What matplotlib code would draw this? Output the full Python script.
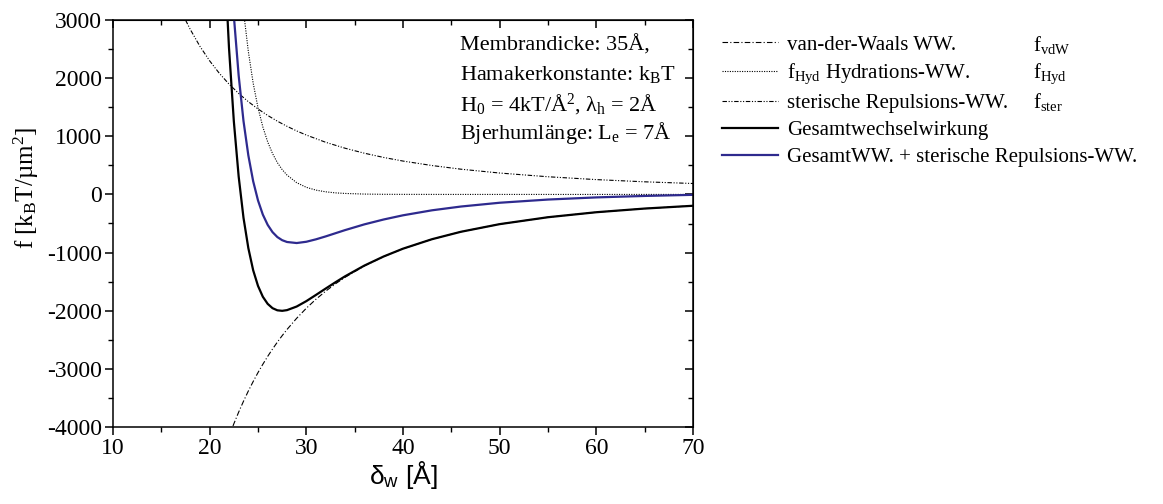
import matplotlib
matplotlib.use("Agg")
import matplotlib.pyplot as plt
from matplotlib.ticker import MultipleLocator

# ---------------- data ----------------
d_vdw = [22, 22.5, 23, 23.5, 24, 24.5, 25, 25.5, 26, 26.5, 27, 27.5, 28, 29, 30,
         31, 32, 33, 34, 36, 38, 40, 43, 46, 50, 55, 60, 65, 70]
f_vdw = [-4161, -3945, -3744, -3557, -3381, -3218, -3064, -2921, -2786, -2660, -2541,
         -2429, -2323, -2130, -1957, -1802, -1664, -1539, -1426, -1230, -1069, -934,
         -770, -642, -511, -392, -306, -243, -195]

d_hyd = [23.5, 24, 24.5, 25, 25.5, 26, 26.5, 27, 27.5, 28, 29, 30, 31, 32, 33, 34,
         36, 38, 40, 45, 50, 60, 70]
f_hyd = [3155, 2458, 1914, 1491, 1161, 904, 704, 548, 427, 333, 202, 122, 74, 45, 27,
         17, 6, 2, 1, 0, 0, 0, 0]

d_ster = [17, 17.5, 18, 19, 20, 21, 22, 23, 24, 25, 26, 27, 28, 29, 30, 32, 34, 36,
          38, 40, 43, 46, 50, 55, 60, 65, 70]
f_ster = [3179, 3000, 2836, 2545, 2297, 2083, 1898, 1737, 1595, 1470, 1359, 1260, 1172,
          1092, 1021, 897, 795, 709, 636, 574, 497, 434, 368, 304, 255, 217, 188]

d_tot = [21.5, 22, 22.5, 23, 23.5, 24, 24.5, 25, 25.5, 26, 26.5, 27, 27.5, 28, 29, 30,
         31, 32, 33, 34, 36, 38, 40, 43, 46, 50, 55, 60, 65, 70]
f_tot = [4183, 2520, 1258, 308, -402, -923, -1304, -1573, -1760, -1882, -1956, -1993,
         -2002, -1990, -1928, -1835, -1728, -1619, -1512, -1409, -1224, -1067, -933,
         -770, -642, -511, -392, -306, -243, -195]

d_blue = [22, 22.5, 23, 23.5, 24, 24.5, 25, 25.5, 26, 26.5, 27, 27.5, 28, 29, 30, 31,
          32, 33, 34, 36, 38, 40, 43, 46, 50, 55, 60, 65, 70]
f_blue = [4418, 3073, 2045, 1262, 672, 227, -103, -347, -523, -648, -733, -787, -818,
          -836, -814, -772, -722, -668, -614, -515, -431, -359, -273, -208, -143, -88,
          -51, -26, -7]

x_ticks = [10, 20, 30, 40, 50, 60, 70]
y_ticks = [-4000, -3000, -2000, -1000, 0, 1000, 2000, 3000]

labels = ["van-der-Waals WW.",
          r"f$_{\mathrm{Hyd}}$ Hydrations-WW.",
          "sterische Repulsions-WW.",
          "Gesamtwechselwirkung",
          "GesamtWW. + sterische Repulsions-WW."]
right_col = [r"f$_{\mathrm{vdW}}$", r"f$_{\mathrm{Hyd}}$", r"f$_{\mathrm{ster}}$"]
annot = ["Membrandicke: 35Å,",
         r"Hamakerkonstante: k$_{\mathrm{B}}$T",
         r"H$_{0}$ = 4kT/Å$^{2}$, λ$_{\mathrm{h}}$ = 2Å",
         r"Bjerhumlänge: L$_{\mathrm{e}}$ = 7Å"]

# ---------------- styling ----------------
SERIF = "Liberation Serif"
plt.rcParams["font.family"] = [SERIF, "DejaVu Serif"]
plt.rcParams["mathtext.fontset"] = "custom"
plt.rcParams["mathtext.rm"] = SERIF
plt.rcParams["mathtext.it"] = SERIF + ":italic"
plt.rcParams["mathtext.bf"] = SERIF + ":bold"
plt.rcParams["mathtext.sf"] = "Liberation Sans"
plt.rcParams["axes.unicode_minus"] = False

W, H = 1163, 504
fig = plt.figure(figsize=(W / 100, H / 100), dpi=100)
ax = fig.add_axes([113 / W, 1 - 427 / H, (693 - 113) / W, (427 - 20) / H])

blue = "#2e2a8e"
l1, = ax.plot(d_vdw, f_vdw, color="black", lw=0.8, ls=(0, (5, 2, 1, 2)))
l2, = ax.plot(d_hyd, f_hyd, color="black", lw=0.8, ls=(0, (1, 1.2)))
l3, = ax.plot(d_ster, f_ster, color="black", lw=0.8, ls=(0, (4, 1.5, 1, 1.5, 1, 1.5)))
l4, = ax.plot(d_tot, f_tot, color="black", lw=1.6)
l5, = ax.plot(d_blue, f_blue, color=blue, lw=1.6)

ax.set_xlim(10, 70)
ax.set_ylim(-4000, 3000)
ax.set_xticks(x_ticks)
ax.set_yticks(y_ticks)
ax.xaxis.set_minor_locator(MultipleLocator(5))
ax.yaxis.set_minor_locator(MultipleLocator(500))
ax.tick_params(which="major", direction="out", length=6, width=1.1, labelsize=17, pad=2)
ax.tick_params(which="minor", direction="out", length=3.5, width=1.0)
for s in ax.spines.values():
    s.set_linewidth(1.1)

secx = ax.secondary_xaxis("top")
secx.set_xticks(x_ticks)
secx.xaxis.set_minor_locator(MultipleLocator(5))
secx.tick_params(which="major", direction="in", length=6, width=1.1, labeltop=False)
secx.tick_params(which="minor", direction="in", length=3.5, width=1.0)
secy = ax.secondary_yaxis("right")
secy.set_yticks(y_ticks)
secy.yaxis.set_minor_locator(MultipleLocator(500))
secy.tick_params(which="major", direction="in", length=6, width=1.1, labelright=False)
secy.tick_params(which="minor", direction="in", length=3.5, width=1.0)

ax.set_xlabel(r"δ$_{\mathsf{w}}$ [Å]", fontsize=19, family="Liberation Sans", labelpad=0)
ax.set_ylabel(r"f [k$_{\mathrm{B}}$T/µm$^{2}$]", fontsize=18)
ax.yaxis.set_label_coords((41 - 113) / 580, (427 - 188) / 407)

# annotation block
for i, t in enumerate(annot):
    ax.text(460 / W, 1 - (45 + i * 29.5) / H, t, transform=fig.transFigure,
            fontsize=16, va="center", ha="left")

# legend
leg = fig.legend([l1, l2, l3, l4, l5], labels, loc="upper left",
                 bbox_to_anchor=(722 / W, 1 - 35 / H), frameon=False,
                 fontsize=15, handlelength=2.7, handletextpad=0.43,
                 labelspacing=0.35, borderaxespad=0, borderpad=0)
for i, t in enumerate(right_col):
    fig.text(1033 / W, 1 - (45 + i * 28.3) / H, t, fontsize=15, va="center", ha="left")

fig.savefig("out.png", dpi=100)
